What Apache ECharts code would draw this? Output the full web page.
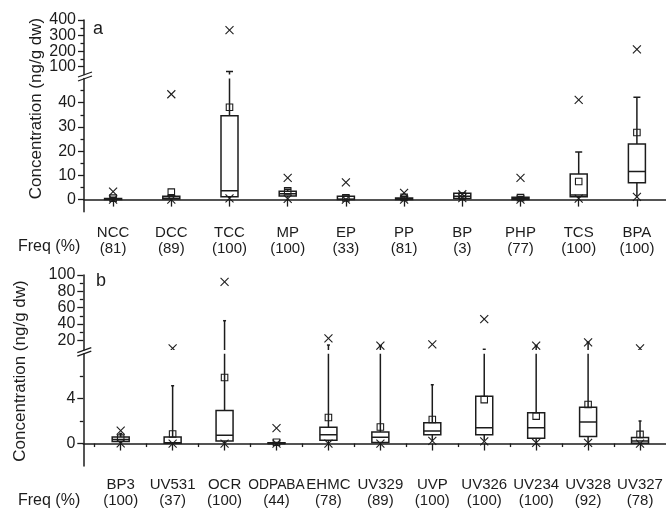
<!DOCTYPE html>
<html>
<head>
<meta charset="utf-8">
<script src="https://cdn.jsdelivr.net/npm/echarts@6/dist/echarts.min.js"></script>
<style>
html,body{margin:0;padding:0;background:#fff;}
#c{width:666px;height:509px;}
</style>
</head>
<body>
<div id="c"></div>
<script>
// ---------- Panel a data ----------
const catsA = ['NCC','DCC','TCC','MP','EP','PP','BP','PHP','TCS','BPA'];
const freqA = [81, 89, 100, 100, 33, 81, 3, 77, 100, 100];
const q1A   = [0, 0.2, 1.2, 1.5, 0, 0, 0.4, 0, 1.2, 7.0];
const medA  = [0.2, 0.6, 3.7, 2.4, 0.1, 0.2, 1.4, 0.4, 1.9, 11.6];
const q3A   = [0.5, 1.4, 34.6, 3.4, 1.4, 0.7, 2.6, 1.0, 10.6, 23.0];
const wLoA  = [0, 0, 0.6, 0.8, 0, 0, 0.4, 0, 0.6, 1.5];
const wHiA  = [1.0, 2.0, 70, 4.3, 1.5, 1.4, 2.6, 1.3, 19.6, 42.3];
const meanA = [0.6, 3.1, 38.1, 3.6, 0.7, 0.9, 1.4, 0.8, 7.5, 27.7];
const minA  = [0, 0, 0.5, 0.3, 0, 0, 0.6, 0, 0.4, 1.1];
const maxA  = [3.3, 43.5, 335, 9.0, 7.1, 2.8, 2.2, 9.0, 41.2, 212];

// ---------- Panel b data ----------
const catsB = ['BP3','UV531','OCR','ODPABA','EHMC','UV329','UVP','UV326','UV234','UV328','UV327'];
const freqB = [100, 37, 100, 44, 78, 89, 100, 100, 100, 92, 78];
const q1B   = [0.18, 0.03, 0.23, 0, 0.29, 0.09, 0.79, 0.79, 0.47, 0.62, 0.03];
const medB  = [0.35, 0.08, 0.73, 0, 0.79, 0.56, 1.11, 1.41, 1.41, 1.91, 0.23];
const q3B   = [0.58, 0.58, 2.94, 0.06, 1.44, 1.03, 1.85, 4.2, 2.74, 3.23, 0.53];
const wLoB  = [0.05, 0, 0.05, 0, 0.05, 0.02, 0.3, 0.3, 0.1, 0.1, 0.02];
const wHiB  = [0.9, 5.15, 44, 0.1, 14.2, 13.4, 5.23, 9.0, 13.4, 17.5, 2.0];
const meanB = [0.48, 0.85, 5.88, 0.12, 2.32, 1.47, 2.14, 3.91, 2.44, 3.47, 0.82];
const minB  = [0.02, 0, 0, 0, 0, 0, 0.23, 0.2, 0.05, 0.05, 0];
const maxB  = [1.15, 10.2, 91.7, 1.38, 22.4, 13.4, 15.1, 46, 13.4, 17.5, 10];

// ---------- Tick values ----------
const aUpperTicks = [100, 200, 300, 400];
const aUpperMinor = [150, 250, 350];
const aLowerTicks = [0, 10, 20, 30, 40];
const aLowerMinor = [5, 15, 25, 35, 45];
const bUpperTicks = [20, 40, 60, 80, 100];
const bUpperMinor = [30, 50, 70, 90];
const bLowerTicks = [0, 4];
const bLowerMinor = [2, 6];

// ---------- build ----------
function buildData(q1, med, q3, wLo, wHi, mean, mn, mx) {
  return q1.map((_, i) => [i + 1, q1[i], med[i], q3[i], wLo[i], wHi[i], mean[i], mn[i], mx[i]]);
}
const dataA = buildData(q1A, medA, q3A, wLoA, wHiA, meanA, minA, maxA);
const dataB = buildData(q1B, medB, q3B, wLoB, wHiB, meanB, minB, maxB);
const posA = catsA.map((_, i) => i + 1);
const posB = catsB.map((_, i) => i + 1);
const boundsB = catsB.map((_, i) => i + 0.5);
const fmtCat = (c, f) => (c.length > 5 ? '{n|' + c + '}' : c) + '\n(' + f + ')';
const labelsA = catsA.map((c, i) => fmtCat(c, freqA[i]));
const labelsB = catsB.map((c, i) => fmtCat(c, freqB[i]));
// alternate labels split over two axes so tightly packed labels are all kept
const evens = arr => arr.filter((_, i) => i % 2 === 0);
const odds = arr => arr.filter((_, i) => i % 2 === 1);

const INK = '#1c1c1c';
const FONT = 'Liberation Sans, Arial, sans-serif';

function makeRender(boxW, capW, lo, hi) {
  const inR = v => v >= lo && v <= hi;
  return function (params, api) {
    const x = api.value(0);
    const P = v => api.coord([x, v]);
    const q1 = api.value(1), med = api.value(2), q3 = api.value(3), wLo = api.value(4), wHi = api.value(5);
    const mean = api.value(6), mn = api.value(7), mx = api.value(8);
    const cx = P(q1)[0];
    const st = { stroke: INK, lineWidth: 1.5, fill: null };
    const thin = { stroke: INK, lineWidth: 1.1 };
    const sq = 6.5, xs = 4;
    const ch = [];
    ch.push({ type: 'line', shape: { x1: cx, y1: P(q3)[1], x2: cx, y2: P(wHi)[1] }, style: st });
    ch.push({ type: 'line', shape: { x1: cx, y1: P(q1)[1], x2: cx, y2: P(wLo)[1] }, style: st });
    if (inR(wHi)) {
      const y = P(wHi)[1];
      ch.push({ type: 'line', shape: { x1: cx - capW / 2, y1: y, x2: cx + capW / 2, y2: y }, style: st });
    }
    const yq1 = P(q1)[1], yq3 = P(q3)[1];
    ch.push({ type: 'rect', shape: { x: cx - boxW / 2, y: yq3, width: boxW, height: Math.max(yq1 - yq3, 0.5) }, style: st });
    if (inR(med)) {
      const y = P(med)[1];
      ch.push({ type: 'line', shape: { x1: cx - boxW / 2, y1: y, x2: cx + boxW / 2, y2: y }, style: st });
    }
    if (inR(mean)) {
      const y = P(mean)[1];
      ch.push({ type: 'rect', shape: { x: cx - sq / 2, y: y - sq / 2, width: sq, height: sq }, style: { stroke: INK, lineWidth: 1.1, fill: null } });
    }
    [mn, mx].forEach(v => {
      if (!inR(v)) return;
      const yy = P(v)[1];
      ch.push({ type: 'line', shape: { x1: cx - xs, y1: yy - xs, x2: cx + xs, y2: yy + xs }, style: thin });
      ch.push({ type: 'line', shape: { x1: cx - xs, y1: yy + xs, x2: cx + xs, y2: yy - xs }, style: thin });
    });
    return { type: 'group', children: ch };
  };
}

const axisLine = { show: true, lineStyle: { color: INK, width: 1.5 } };
const tickLbl = { fontSize: 16, color: INK, fontFamily: FONT, margin: 8, hideOverlap: false };

function yMajor(grid, min, max, ticks) {
  return {
    type: 'value', gridIndex: grid, min: min, max: max, position: 'left',
    axisLine: axisLine, splitLine: { show: false },
    axisTick: { show: true, inside: false, length: 6, customValues: ticks, lineStyle: { color: INK, width: 1.3 } },
    axisLabel: Object.assign({ customValues: evens(ticks) }, tickLbl)
  };
}
function yMinor(grid, min, max, minor, ticks) {
  const lbls = odds(ticks);
  return {
    type: 'value', gridIndex: grid, min: min, max: max, position: 'left',
    axisLine: { show: false }, splitLine: { show: false },
    axisLabel: lbls.length ? Object.assign({ customValues: lbls }, tickLbl) : { show: false },
    axisTick: { show: true, inside: false, length: 3.5, customValues: minor, lineStyle: { color: INK, width: 1.3 } }
  };
}
function xHidden(grid, min, max) {
  return { type: 'value', gridIndex: grid, min: min, max: max, show: false };
}
const catLbl = {
  fontSize: 15, lineHeight: 16, color: INK, fontFamily: FONT, hideOverlap: false, showMinLabel: true, showMaxLabel: true,
  rich: { n: { fontSize: 13.8, lineHeight: 16, color: INK, fontFamily: FONT } }
};

const option = {
  backgroundColor: '#fff',
  animation: false,
  grid: [
    { left: 84, right: 0, top: 20, height: 54.5 },
    { left: 84, right: 0, top: 78.5, height: 133.2 },
    { left: 83.3, right: 0, top: 275, height: 75.1 },
    { left: 83.3, right: 0, top: 353.7, height: 113 }
  ],
  xAxis: [
    xHidden(0, 0.5, 10.5),
    {
      type: 'value', gridIndex: 1, min: 0.5, max: 10.5, position: 'bottom',
      axisLine: axisLine, splitLine: { show: false },
      axisTick: { show: true, inside: false, length: 7, customValues: posA, lineStyle: { color: INK, width: 1.3 } },
      axisLabel: Object.assign({ customValues: posA, formatter: v => labelsA[Math.round(v) - 1], margin: 13 }, catLbl)
    },
    xHidden(2, 0.28, 11.5),
    {
      type: 'value', gridIndex: 3, min: 0.28, max: 11.5, position: 'bottom',
      axisLine: axisLine, splitLine: { show: false },
      axisTick: { show: true, inside: false, length: 7, customValues: posB, lineStyle: { color: INK, width: 1.3 } },
      axisLabel: Object.assign({ customValues: posB, formatter: v => labelsB[Math.round(v) - 1], margin: 11 }, catLbl)
    },
    {
      type: 'value', gridIndex: 3, min: 0.28, max: 11.5, position: 'bottom',
      axisLine: { show: false }, splitLine: { show: false }, axisLabel: { show: false },
      axisTick: { show: true, inside: false, length: 3.5, customValues: boundsB, lineStyle: { color: INK, width: 1.3 } }
    }
  ],
  yAxis: [
    yMajor(0, 50, 400, aUpperTicks),
    yMajor(1, -5, 50, aLowerTicks),
    yMajor(2, 8, 100, bUpperTicks),
    yMajor(3, -2, 8, bLowerTicks),
    yMinor(0, 50, 400, aUpperMinor, aUpperTicks),
    yMinor(1, -5, 50, aLowerMinor, aLowerTicks),
    yMinor(2, 8, 100, bUpperMinor, bUpperTicks),
    yMinor(3, -2, 8, bLowerMinor, bLowerTicks)
  ],
  series: [
    { type: 'custom', xAxisIndex: 0, yAxisIndex: 0, clip: true, renderItem: makeRender(17, 7, 50, 400), encode: { x: 0, y: [1, 2, 3, 4, 5, 6, 7, 8] }, data: dataA },
    { type: 'custom', xAxisIndex: 1, yAxisIndex: 1, clip: true, renderItem: makeRender(17, 7, -5, 50), encode: { x: 0, y: [1, 2, 3, 4, 5, 6, 7, 8] }, data: dataA },
    { type: 'custom', xAxisIndex: 2, yAxisIndex: 2, clip: true, renderItem: makeRender(17, 3, 8, 100), encode: { x: 0, y: [1, 2, 3, 4, 5, 6, 7, 8] }, data: dataB },
    { type: 'custom', xAxisIndex: 3, yAxisIndex: 3, clip: true, renderItem: makeRender(17, 3, -2, 8), encode: { x: 0, y: [1, 2, 3, 4, 5, 6, 7, 8] }, data: dataB }
  ],
  graphic: [
    { type: 'text', x: 36, y: 108.5, rotation: Math.PI / 2, style: { text: 'Concentration (ng/g dw)', fontSize: 17, fontFamily: FONT, fill: INK, align: 'center', verticalAlign: 'middle' } },
    { type: 'text', x: 20, y: 371, rotation: Math.PI / 2, style: { text: 'Concentration (ng/g dw)', fontSize: 17, fontFamily: FONT, fill: INK, align: 'center', verticalAlign: 'middle' } },
    { type: 'text', x: 93, y: 29, style: { text: 'a', fontSize: 18, fontFamily: FONT, fill: INK, align: 'left', verticalAlign: 'middle' } },
    { type: 'text', x: 96, y: 281, style: { text: 'b', fontSize: 18, fontFamily: FONT, fill: INK, align: 'left', verticalAlign: 'middle' } },
    { type: 'text', x: 18, y: 247, style: { text: 'Freq (%)', fontSize: 16, fontFamily: FONT, fill: INK, align: 'left', verticalAlign: 'middle' } },
    { type: 'text', x: 18, y: 501, style: { text: 'Freq (%)', fontSize: 16, fontFamily: FONT, fill: INK, align: 'left', verticalAlign: 'middle' } }
  ]
};

const chart = echarts.init(document.getElementById('c'), null, { renderer: 'canvas' });
chart.setOption(option);

// axis break marks, placed from the axes' own scales
function breakMarks(upperAxis, lowerAxis, upperMin, lowerMax, gridIdx, xMin) {
  const yU = chart.convertToPixel({ yAxisIndex: upperAxis }, upperMin);
  const yL = chart.convertToPixel({ yAxisIndex: lowerAxis }, lowerMax);
  const xA = chart.convertToPixel({ xAxisIndex: gridIdx }, xMin);
  const mk = (y) => ({ type: 'line', z: 100, shape: { x1: xA - 6, y1: y + 2.5, x2: xA + 8, y2: y - 2.5 }, style: { stroke: INK, lineWidth: 1.3 } });
  return [mk(yU), mk(yL)];
}
const marks = breakMarks(0, 1, 50, 50, 1, 0.5).concat(breakMarks(2, 3, 8, 8, 3, 0.28));
chart.setOption({ graphic: option.graphic.concat(marks) });
</script>
</body>
</html>
